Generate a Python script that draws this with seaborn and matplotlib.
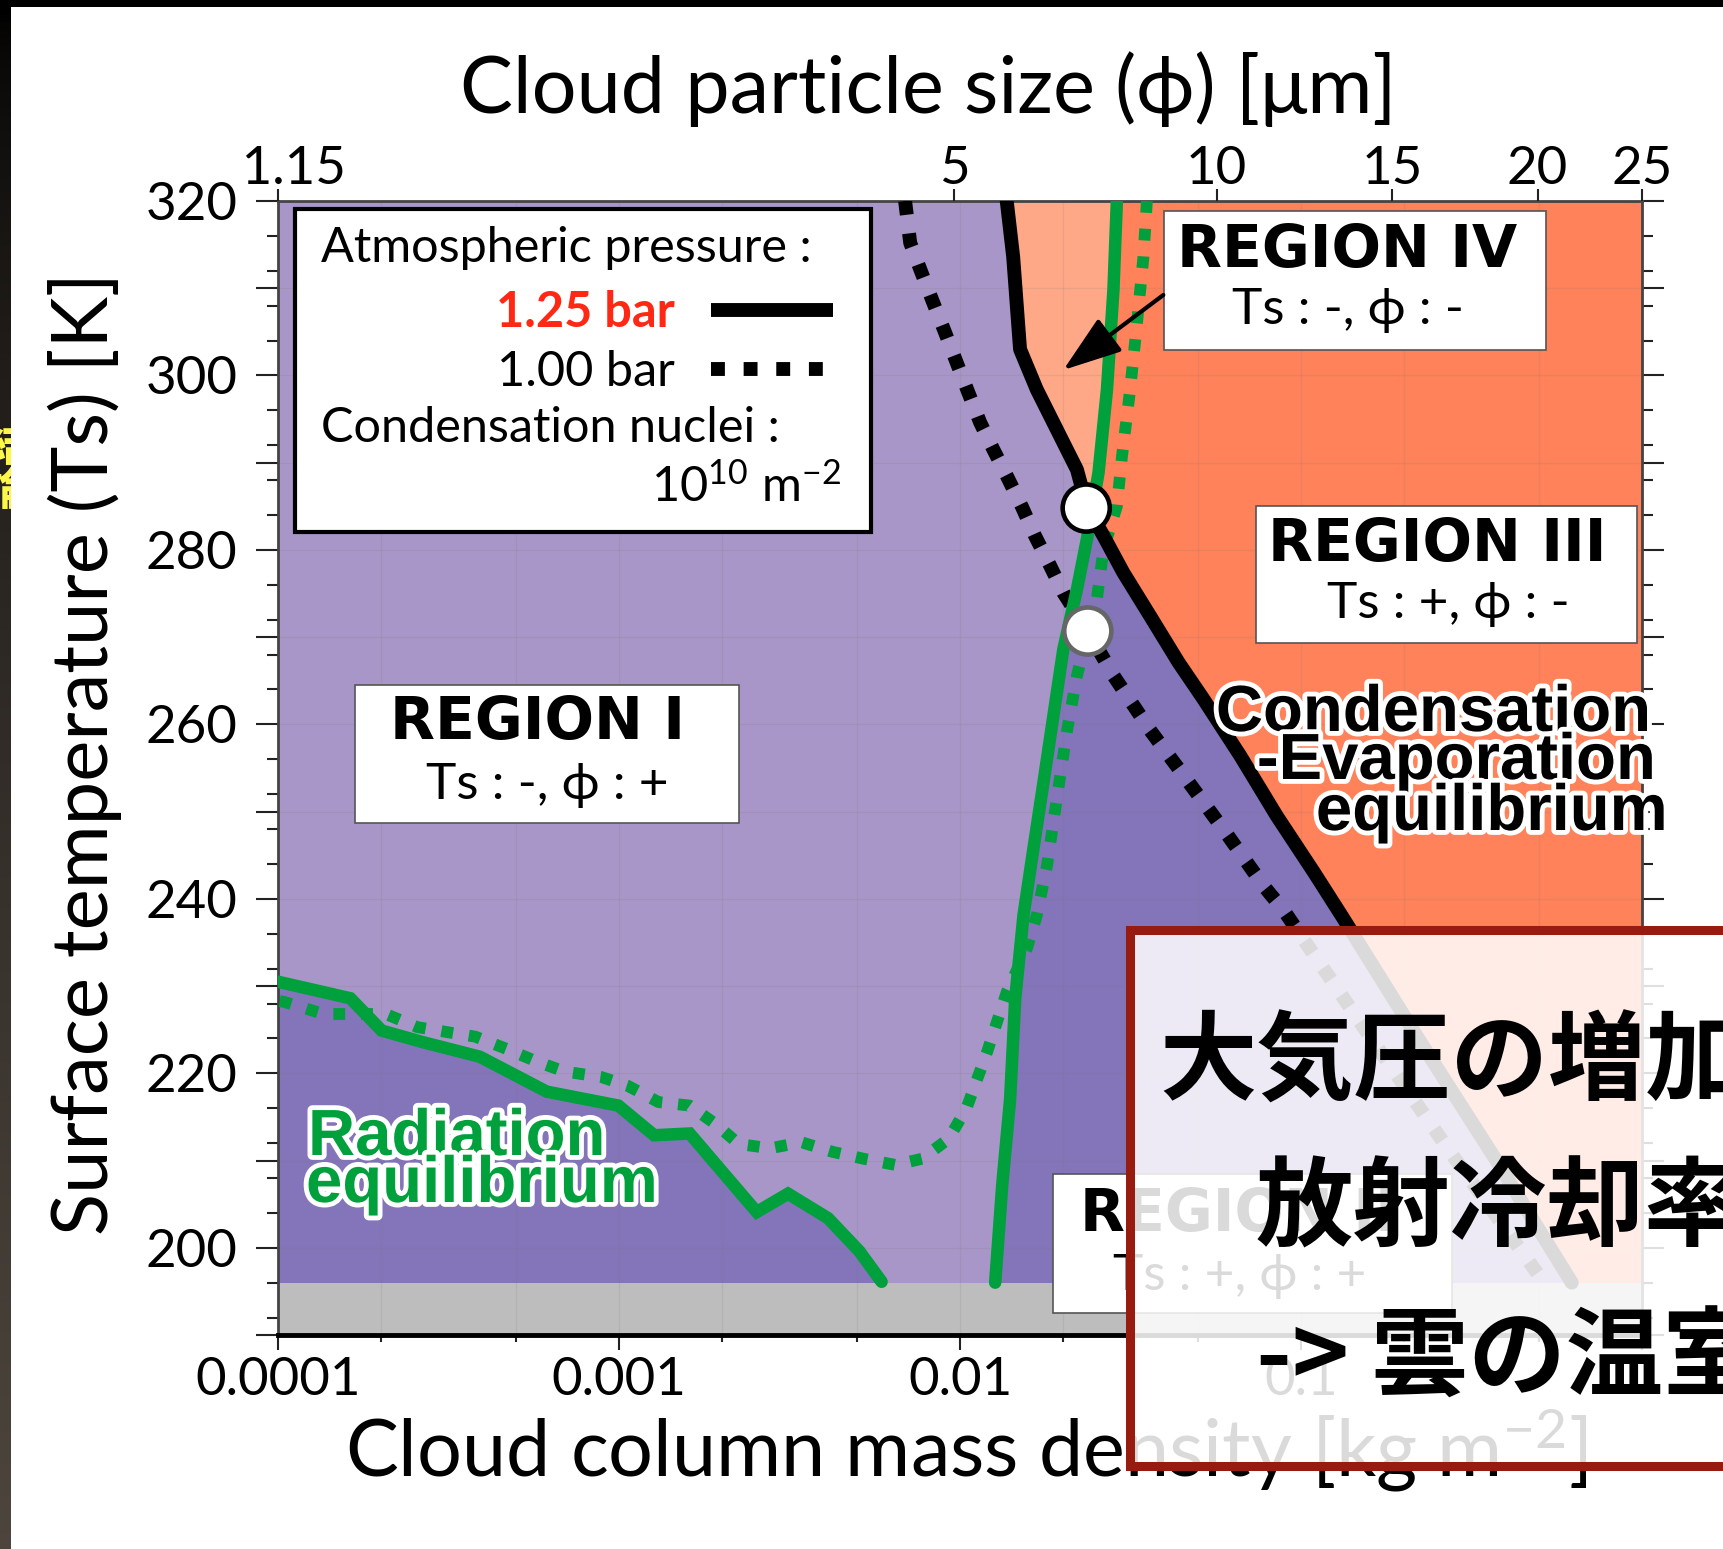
import numpy as np
import seaborn as sns
import matplotlib.pyplot as plt
import matplotlib.patheffects as pe
from matplotlib.patches import Rectangle
from matplotlib.lines import Line2D
from matplotlib.ticker import MultipleLocator, NullLocator, LogLocator, FuncFormatter

# ---- values ----
# condensation-evaporation equilibrium, 1.25 bar (solid black)
ce125_mass = [0.01371, 0.01432, 0.01500, 0.01679, 0.01923, 0.02203, 0.02355, 0.02636, 0.03013,
              0.03614, 0.04375, 0.05176, 0.06637, 0.08492, 0.1089, 0.1334, 0.2198, 0.3698, 0.6223]
ce125_temp = [320.0, 313.6, 303.0, 298.4, 293.8, 289.2, 285.0, 281.6, 277.4,
              272.4, 267.1, 262.9, 256.4, 249.5, 243.1, 237.7, 224.1, 210.3, 196.0]

# condensation-evaporation equilibrium, 1.00 bar (dotted black)
ce100_mass = [0.006902, 0.007145, 0.007727, 0.008356, 0.009048, 0.009795, 0.01059, 0.01146,
              0.01253, 0.01371, 0.01517, 0.01660, 0.01837, 0.02009, 0.02371, 0.02818, 0.03614,
              0.04677, 0.06067, 0.07762, 0.08892, 0.1517, 0.2748, 0.5164]
ce100_temp = [320.0, 315.2, 311.7, 308.3, 304.9, 301.4, 298.0, 294.6,
              291.5, 288.5, 285.0, 281.6, 278.2, 275.1, 270.7, 265.6, 259.3,
              253.4, 247.4, 241.5, 238.7, 225.4, 210.9, 196.0]

# radiation equilibrium, 1.25 bar (solid green), small-mass branch
rad125_left_mass = [1.0e-4, 1.63e-4, 2.014e-4, 2.642e-4, 3.908e-4, 6.138e-4, 9.954e-4, 1.268e-3,
                    1.611e-3, 2.051e-3, 2.535e-3, 3.13e-3, 4.10e-3, 5.07e-3, 5.89e-3]
rad125_left_temp = [230.5, 228.6, 224.9, 223.6, 221.9, 217.9, 216.3, 212.9,
                    213.1, 208.3, 204.1, 206.2, 203.4, 199.6, 196.1]

# radiation equilibrium, 1.25 bar (solid green), large-mass branch
rad125_right_mass = [0.01268, 0.01330, 0.01403, 0.01452, 0.01535, 0.01641, 0.01758, 0.01879,
                     0.02009, 0.02203, 0.02355, 0.02547, 0.02698, 0.02818, 0.02884]
rad125_right_temp = [196.0, 207.2, 217.1, 228.6, 238.1, 245.7, 253.4, 261.0,
                     268.6, 275.5, 281.2, 288.8, 298.4, 309.8, 320.0]

# radiation equilibrium, 1.00 bar (dotted green)
rad100_mass = [0.03532, 0.03451, 0.03304, 0.03155, 0.02985, 0.02884, 0.02636, 0.02518, 0.02203,
               0.02056, 0.01923, 0.01799, 0.01679, 0.01570, 0.01371, 0.01202, 0.01045, 0.009268,
               0.007727, 0.006457, 0.005224, 0.004227, 0.003428, 0.002773, 0.002244, 0.001932,
               0.001611, 0.001306, 0.001057, 8.83e-4, 6.93e-4, 5.78e-4, 4.68e-4, 3.79e-4,
               3.16e-4, 2.56e-4, 2.07e-4, 1.36e-4, 1.04e-4, 1.0e-4]
rad100_temp = [320.0, 313.6, 306.0, 298.4, 290.7, 285.0, 280.1, 274.3, 265.6,
               259.1, 251.5, 243.8, 238.1, 234.3, 229.3, 222.5, 216.0, 212.5,
               210.2, 209.5, 210.2, 211.0, 212.1, 211.4, 211.9, 214.1,
               216.3, 216.7, 218.6, 219.6, 220.2, 221.3, 222.8, 224.2,
               224.7, 225.3, 226.8, 226.8, 228.2, 228.3]

# intersection markers
circle_mass = [0.02345, 0.02370]
circle_temp = [284.8, 270.7]

# top axis: cloud particle size (first label sits a little right of the corner)
size_labels = ["\u20071.15", "5", "10", "15", "20", "25"]
size_tick_mass = [1.0e-4, 9.6e-3, 0.0566, 0.185, 0.494, 1.0]

lower_t = 196.0
xlim = (1e-4, 1.0)
ylim = (190, 320)

# ---- colours ----
LAV = "#A896C8"
PURPLE = "#8474BA"
CORAL = "#FF825A"
SALMON = "#FFA887"
GREEN = "#00A03C"
GRAY = "#BDBDBD"

W, H = 1723, 1549
sns.set_style("ticks")
plt.rcParams['font.family'] = ['Lato', 'DejaVu Sans']
plt.rcParams['mathtext.fontset'] = 'custom'
plt.rcParams['mathtext.rm'] = 'Lato'
plt.rcParams['mathtext.it'] = 'Lato'
plt.rcParams['mathtext.bf'] = 'Lato:bold'
plt.rcParams['text.color'] = 'black'
plt.rcParams['axes.labelcolor'] = 'black'
CJK = ['Noto Sans CJK JP', 'DejaVu Sans']

fig = plt.figure(figsize=(W / 100, H / 100), dpi=100)
fig.patch.set_facecolor('white')
ax = fig.add_axes([278 / W, 1 - 1335 / H, 1364 / W, 1134 / H])
ax.set_facecolor(LAV)
ax.set_xscale('log')
ax.set_xlim(*xlim)
ax.set_ylim(*ylim)


def axf(px, py):
    # pixel position of the picture -> axes fraction
    return (px - 278) / 1364, (1335 - py) / 1134


# ---- region fills ----
x_right = xlim[1]
ax.fill(ce125_mass + [ce125_mass[-1], x_right, x_right],
        ce125_temp + [190, 190, 320], color=SALMON, lw=0, zorder=0.2)
ax.fill(rad125_right_mass + [x_right, x_right, rad125_right_mass[0]],
        rad125_right_temp + [320, 190, 190], color=CORAL, lw=0, zorder=0.25)
g_low = [i for i, t in enumerate(rad125_right_temp) if t < 284]
b_low = [i for i, t in enumerate(ce125_temp) if t <= 285]
ax.fill([rad125_right_mass[i] for i in g_low] + [ce125_mass[i] for i in b_low]
        + [ce125_mass[-1], rad125_right_mass[0]],
        [rad125_right_temp[i] for i in g_low] + [ce125_temp[i] for i in b_low] + [190, 190],
        color=PURPLE, lw=0, zorder=0.3)
ax.fill_between(rad125_left_mass, 190, rad125_left_temp, color=PURPLE, lw=0, zorder=0.3)
ax.axhspan(190, lower_t, color=GRAY, lw=0, zorder=0.4)

# ---- grid / ticks ----
ax.set_axisbelow(True)
ax.yaxis.set_major_locator(MultipleLocator(10))
ax.yaxis.set_minor_locator(MultipleLocator(4))
ax.yaxis.set_major_formatter(FuncFormatter(lambda v, p: f"{v:.0f}" if v % 20 == 0 else ""))
ax.xaxis.set_major_locator(LogLocator(base=10, numticks=10))
ax.xaxis.set_minor_locator(LogLocator(base=10, subs=(2.0, 5.0), numticks=10))
ax.xaxis.set_major_formatter(FuncFormatter(lambda v, p: "" if v >= 1 else f"{v:.10f}".rstrip('0')))
ax.xaxis.set_minor_formatter(FuncFormatter(lambda v, p: ""))
ax.grid(axis='x', which='both', color='#777777', alpha=0.15, lw=1)
ax.grid(axis='y', which='major', color='#777777', alpha=0.15, lw=1)
ax.tick_params(axis='y', which='major', direction='out', length=16, width=1.5, pad=13,
               labelsize=38, left=True, right=True, colors='#222222', labelcolor='black')
ax.tick_params(axis='y', which='minor', direction='out', length=8, width=1.5,
               left=True, right=True, colors='#222222')
ax.tick_params(axis='x', which='major', direction='out', length=11, width=1.5, pad=5,
               labelsize=38, top=False, colors='#222222', labelcolor='black')
ax.tick_params(axis='x', which='minor', direction='out', length=5, width=1.5, top=False,
               colors='#222222')
for side in ['left', 'top', 'right']:
    ax.spines[side].set_linewidth(2.0)
    ax.spines[side].set_color('#444444')
ax.spines['bottom'].set_linewidth(3.5)
ax.spines['bottom'].set_color('black')

top = ax.twiny()
top.set_xscale('log')
top.set_xlim(*xlim)
top.set_xticks(size_tick_mass, labels=size_labels)
top.xaxis.set_minor_locator(NullLocator())
top.tick_params(axis='x', direction='out', length=9, width=1.5, pad=-3, labelsize=38,
                colors='#222222', labelcolor='black')
for s in top.spines.values():
    s.set_visible(False)

# ---- curves ----
dots = (0, (1, 1.35))
sns.lineplot(x=rad100_mass, y=rad100_temp, sort=False, estimator=None, color=GREEN,
             lw=8.5, linestyle=dots, dash_capstyle='butt', ax=ax, zorder=3)
sns.lineplot(x=rad125_left_mass, y=rad125_left_temp, sort=False, estimator=None, color=GREEN,
             lw=9, solid_joinstyle='miter', ax=ax, zorder=3.2)
sns.lineplot(x=rad125_right_mass, y=rad125_right_temp, sort=False, estimator=None, color=GREEN,
             lw=9, ax=ax, zorder=3.2)
sns.lineplot(x=ce100_mass, y=ce100_temp, sort=False, estimator=None, color='black',
             lw=10, linestyle=dots, dash_capstyle='butt', ax=ax, zorder=3.1)
sns.lineplot(x=ce125_mass, y=ce125_temp, sort=False, estimator=None, color='black',
             lw=10, ax=ax, zorder=3.3)
ax.scatter(circle_mass, circle_temp, s=1150, facecolor='white',
           edgecolors=['black', '#666666'], linewidths=3.3, zorder=6, clip_on=False)
ax.set_xlabel("")
ax.set_ylabel("")

# ---- legend box ----
x0, y0 = axf(294.5, 531.9)
x1, y1 = axf(871.4, 208.8)
ax.add_patch(Rectangle((x0, y0), x1 - x0, y1 - y0, transform=ax.transAxes,
                       facecolor='white', edgecolor='black', lw=3, zorder=7))
ax.text(*axf(321, 262), "Atmospheric pressure :", transform=ax.transAxes,
        fontsize=35, ha='left', va='baseline', zorder=8)
ax.text(*axf(321, 442), "Condensation nuclei :", transform=ax.transAxes,
        fontsize=35, ha='left', va='baseline', zorder=8)
ax.text(*axf(841, 501), r"10$^{\mathregular{10}}$ m$^{\mathregular{-2}}$",
        transform=ax.transAxes, fontsize=35, ha='right', va='baseline', zorder=8)
handles = [Line2D([], [], color='black', lw=10, solid_capstyle='butt'),
           Line2D([], [], color='black', lw=10, linestyle=dots, dash_capstyle='butt')]
leg = ax.legend(handles, ["1.25 bar", "1.00 bar"], loc='center right',
                bbox_to_anchor=axf(833, 342), bbox_transform=ax.transAxes,
                markerfirst=False, frameon=False, fontsize=35, handlelength=2.5,
                handletextpad=0.75, labelspacing=0.3, borderpad=0, borderaxespad=0)
leg.set_zorder(8)
leg.get_texts()[0].set_color('#FF2814')
leg.get_texts()[0].set_fontweight('bold')

# ---- region labels ----
def region_box(box, title, sub, title_xy, sub_xy):
    bx0, by0 = axf(box[0], box[3])
    bx1, by1 = axf(box[2], box[1])
    ax.add_patch(Rectangle((bx0, by0), bx1 - bx0, by1 - by0, transform=ax.transAxes,
                           facecolor='white', edgecolor='#555555', lw=1.2, zorder=7))
    ax.text(*axf(*title_xy), title, transform=ax.transAxes, fontsize=42,
            family=['DejaVu Sans'], weight='bold', ha='center', va='center', zorder=8)
    ax.text(*axf(*sub_xy), sub, transform=ax.transAxes, fontsize=37,
            ha='center', va='center', zorder=8)


region_box((1163.7, 211, 1546.2, 349.5), "REGION IV", "Ts : -, ϕ : -",
           (1347, 250), (1348, 310))
region_box((1256, 505.5, 1637.4, 642.9), "REGION III", "Ts : +, ϕ : -",
           (1437, 544), (1448, 604))
region_box((355, 684.6, 738.5, 823), "REGION I", "Ts : -, ϕ : +",
           (538, 723), (547, 785))
region_box((1052.7, 1173.6, 1451.7, 1313.2), "REGION II", "Ts : +, ϕ : +",
           (1238, 1214), (1240, 1276))

ax.annotate("", xy=axf(1063.3, 370), xytext=axf(1163.3, 295),
            xycoords='axes fraction', textcoords='axes fraction',
            arrowprops=dict(arrowstyle="-|>,head_length=1.3,head_width=0.45", color='black',
                            lw=3, mutation_scale=28, shrinkA=0, shrinkB=0), zorder=8)

outline = [pe.withStroke(linewidth=7, foreground='white')]
for txt, px, py in [("Condensation", 1650, 731), ("-Evaporation", 1655, 779),
                    ("equilibrium", 1667, 830)]:
    ax.text(*axf(px, py), txt, transform=ax.transAxes, fontsize=47,
            family=['Liberation Sans'], weight='bold', ha='right', va='baseline',
            path_effects=outline, zorder=8)
for txt, px, py in [("Radiation", 308, 1155), ("equilibrium", 306, 1202)]:
    ax.text(*axf(px, py), txt, transform=ax.transAxes, fontsize=47, color=GREEN,
            family=['Liberation Sans'], weight='bold', ha='left', va='baseline',
            path_effects=outline, zorder=8)

# ---- axis titles ----
ax.text(*axf(928, 113), "Cloud particle size (ϕ) [μm]", transform=ax.transAxes,
        fontsize=57, ha='center', va='baseline')
ax.text(*axf(966, 1476), r"Cloud column mass density [kg m$^{\mathregular{-2}}$]",
        transform=ax.transAxes, fontsize=57, ha='center', va='baseline')
ax.text(*axf(108, 754), "Surface temperature (Ts) [K]", transform=ax.transAxes,
        fontsize=56, ha='center', va='baseline', rotation=90, rotation_mode='anchor')

# ---- slide decorations ----
side = fig.add_axes([0, 0, 11 / W, 1 - 7 / H])
shade = np.linspace(0, 1, 200) ** 0.6
side.imshow(np.dstack([0.30 * shade, 0.27 * shade, 0.24 * shade]).reshape(200, 1, 3),
            aspect='auto', extent=(0, 1, 0, 1), origin='upper')
side.set_xlim(0, 1)
side.set_ylim(0, 1)
side.set_axis_off()
side.text(2.6, (H - 470) / (H - 7), "結\n論", transform=side.transAxes, color='#FFF64A',
          fontsize=32, family=CJK, weight='black', ha='right', va='center',
          linespacing=1.0, clip_on=True)
fig.patches.append(Rectangle((0, 1 - 7 / H), 1, 7 / H, transform=fig.transFigure,
                             facecolor='black', lw=0, zorder=5))

# ---- overlay note ----
fig.patches.append(Rectangle((1130 / W, 1 - 1466 / H), 0.5, (1466 - 930) / H,
                             transform=fig.transFigure, facecolor=(1, 1, 1, 0.86),
                             edgecolor='#981B10', lw=6.5, zorder=5))
for txt, px, py in [("大気圧の増加", 1159, 1064), ("放射冷却率", 1256, 1210),
                    ("-> 雲の温室", 1256, 1360)]:
    fig.text(px / W, 1 - py / H, txt, fontsize=70, family=CJK, weight='bold',
             color='black', ha='left', va='center', zorder=6)

fig.savefig("out.png", dpi=100)
